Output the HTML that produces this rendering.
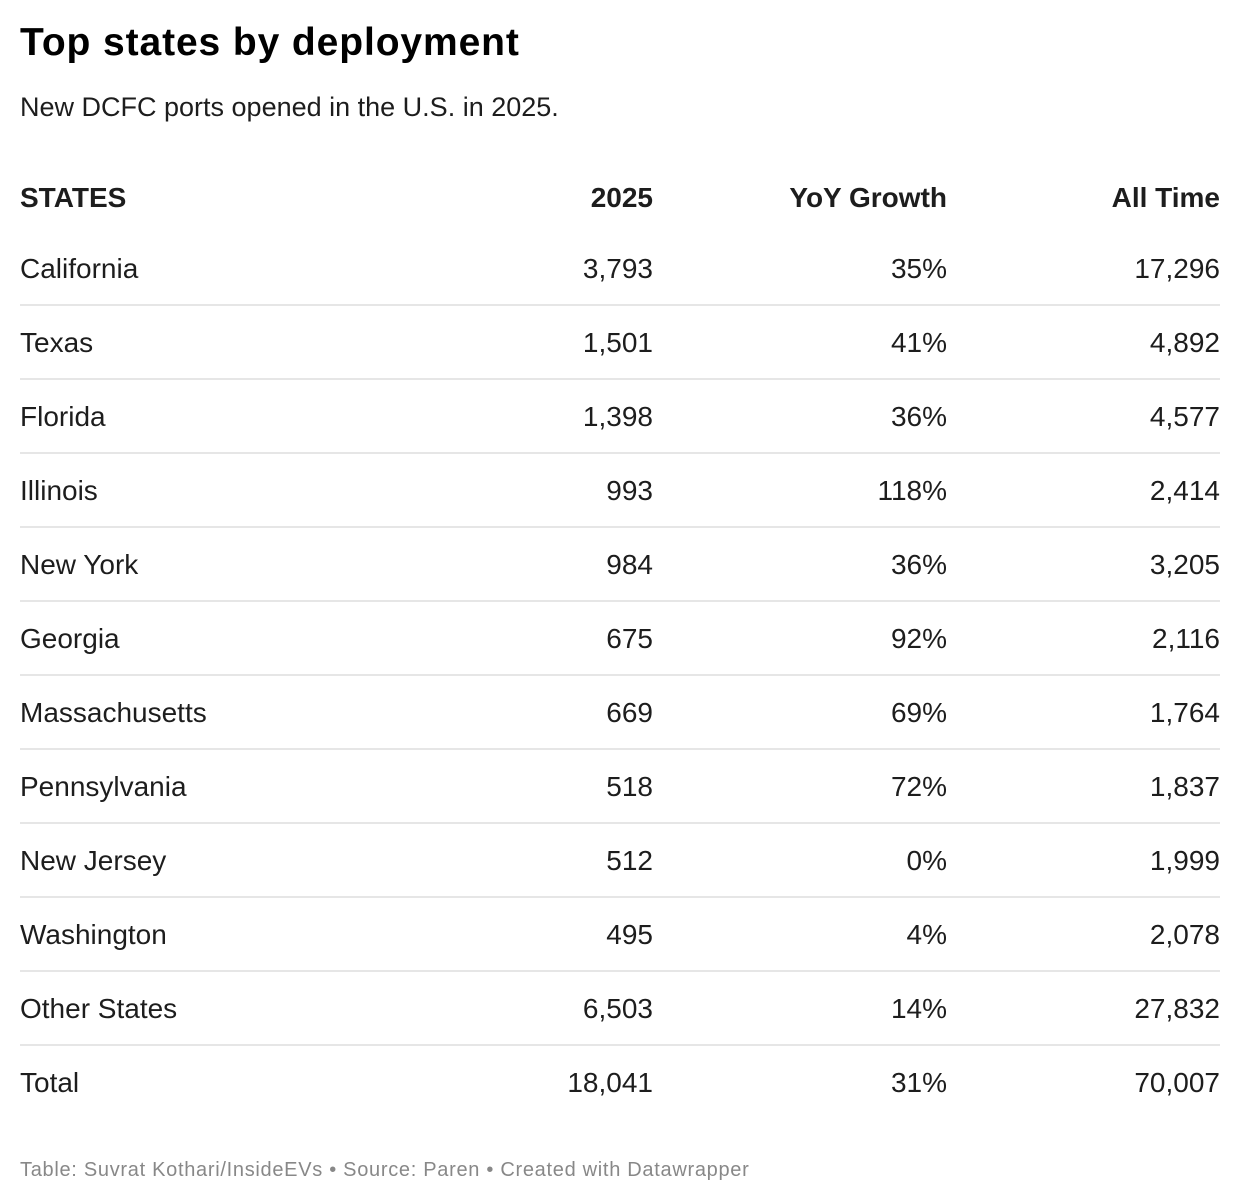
<!DOCTYPE html>
<html>
<head>
<meta charset="utf-8">
<style>
  html, body { margin:0; padding:0; background:#fff; }
  body { width:1240px; height:1204px; position:relative; overflow:hidden;
         font-family:"Liberation Sans", Arial, sans-serif; color:#1d1d1d; }
  .t { position:absolute; white-space:nowrap; line-height:1; }
  .title { left:20px; top:23px; font-size:39px; font-weight:bold; color:#000; letter-spacing:0.9px; }
  .sub { left:20px; top:94.1px; font-size:27px; color:#1d1d1d; }
  .hd { font-size:28px; font-weight:bold; top:184.3px; }
  .c0 { left:20px; }
  .c1 { right:587px; text-align:right; }
  .c2 { right:293px; text-align:right; }
  .c3 { right:20px; text-align:right; }
  .row { font-size:28px; }
  .line { position:absolute; left:20px; width:1200px; height:2px; background:#e6e6e6; }
  .foot { left:20px; top:1160.1px; font-size:20px; color:#888; letter-spacing:0.7px; }
</style>
</head>
<body>
<div class="t title">Top states by deployment</div>
<div class="t sub">New DCFC ports opened in the U.S. in 2025.</div>

<div class="t hd c0">STATES</div>
<div class="t hd c1">2025</div>
<div class="t hd c2">YoY Growth</div>
<div class="t hd c3">All Time</div>

<div class="t row c0" style="top:254.8px">California</div>
<div class="t row c1" style="top:254.8px">3,793</div>
<div class="t row c2" style="top:254.8px">35%</div>
<div class="t row c3" style="top:254.8px">17,296</div>
<div class="line" style="top:304px"></div>

<div class="t row c0" style="top:328.8px">Texas</div>
<div class="t row c1" style="top:328.8px">1,501</div>
<div class="t row c2" style="top:328.8px">41%</div>
<div class="t row c3" style="top:328.8px">4,892</div>
<div class="line" style="top:378px"></div>

<div class="t row c0" style="top:402.8px">Florida</div>
<div class="t row c1" style="top:402.8px">1,398</div>
<div class="t row c2" style="top:402.8px">36%</div>
<div class="t row c3" style="top:402.8px">4,577</div>
<div class="line" style="top:452px"></div>

<div class="t row c0" style="top:476.8px">Illinois</div>
<div class="t row c1" style="top:476.8px">993</div>
<div class="t row c2" style="top:476.8px">118%</div>
<div class="t row c3" style="top:476.8px">2,414</div>
<div class="line" style="top:526px"></div>

<div class="t row c0" style="top:550.8px">New York</div>
<div class="t row c1" style="top:550.8px">984</div>
<div class="t row c2" style="top:550.8px">36%</div>
<div class="t row c3" style="top:550.8px">3,205</div>
<div class="line" style="top:600px"></div>

<div class="t row c0" style="top:624.8px">Georgia</div>
<div class="t row c1" style="top:624.8px">675</div>
<div class="t row c2" style="top:624.8px">92%</div>
<div class="t row c3" style="top:624.8px">2,116</div>
<div class="line" style="top:674px"></div>

<div class="t row c0" style="top:698.8px">Massachusetts</div>
<div class="t row c1" style="top:698.8px">669</div>
<div class="t row c2" style="top:698.8px">69%</div>
<div class="t row c3" style="top:698.8px">1,764</div>
<div class="line" style="top:748px"></div>

<div class="t row c0" style="top:772.8px">Pennsylvania</div>
<div class="t row c1" style="top:772.8px">518</div>
<div class="t row c2" style="top:772.8px">72%</div>
<div class="t row c3" style="top:772.8px">1,837</div>
<div class="line" style="top:822px"></div>

<div class="t row c0" style="top:846.8px">New Jersey</div>
<div class="t row c1" style="top:846.8px">512</div>
<div class="t row c2" style="top:846.8px">0%</div>
<div class="t row c3" style="top:846.8px">1,999</div>
<div class="line" style="top:896px"></div>

<div class="t row c0" style="top:920.8px">Washington</div>
<div class="t row c1" style="top:920.8px">495</div>
<div class="t row c2" style="top:920.8px">4%</div>
<div class="t row c3" style="top:920.8px">2,078</div>
<div class="line" style="top:970px"></div>

<div class="t row c0" style="top:994.8px">Other States</div>
<div class="t row c1" style="top:994.8px">6,503</div>
<div class="t row c2" style="top:994.8px">14%</div>
<div class="t row c3" style="top:994.8px">27,832</div>
<div class="line" style="top:1044px"></div>

<div class="t row c0" style="top:1068.8px">Total</div>
<div class="t row c1" style="top:1068.8px">18,041</div>
<div class="t row c2" style="top:1068.8px">31%</div>
<div class="t row c3" style="top:1068.8px">70,007</div>

<div class="t foot">Table: Suvrat Kothari/InsideEVs • Source: Paren • Created with Datawrapper</div>
</body>
</html>
